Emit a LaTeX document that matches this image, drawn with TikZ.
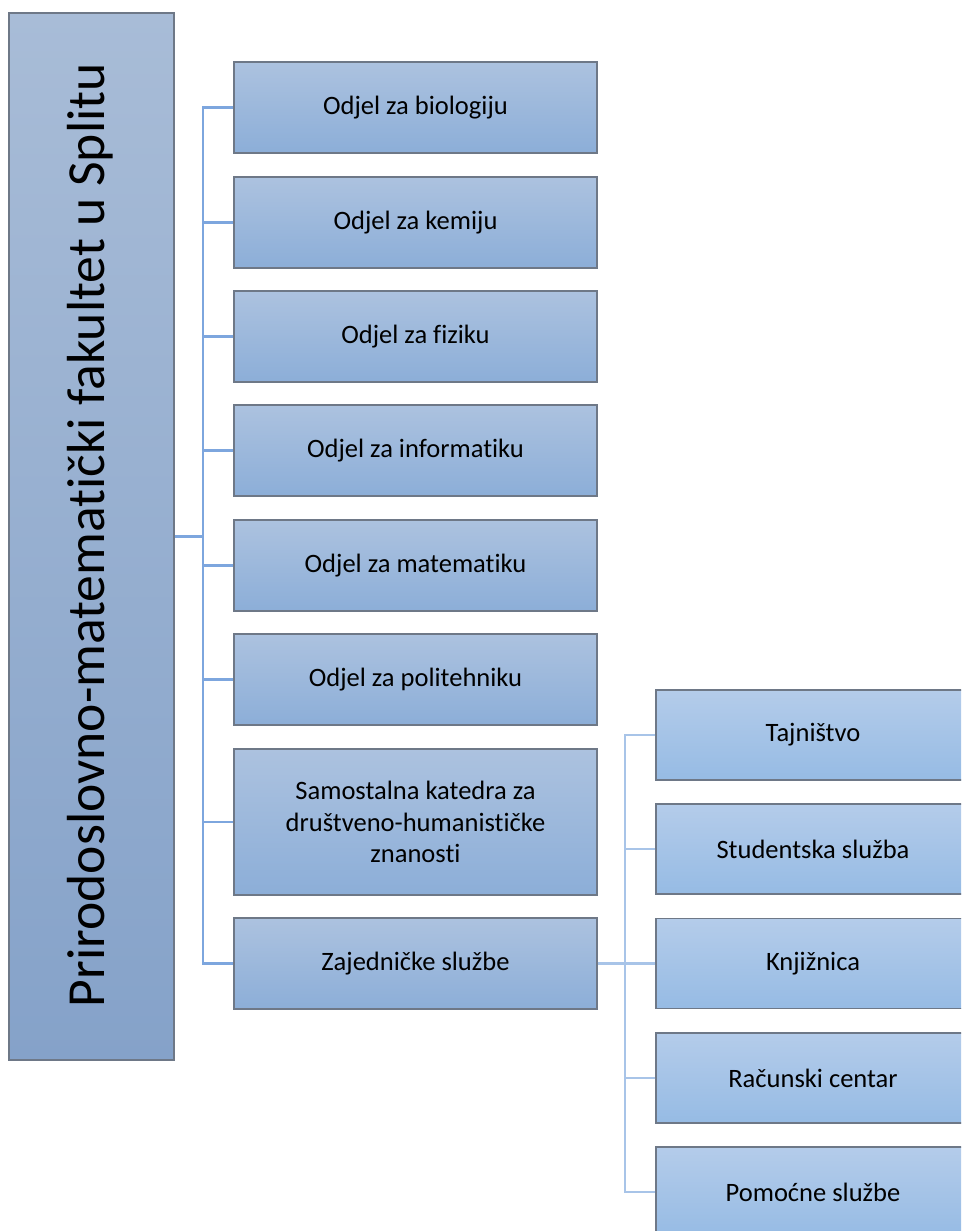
\documentclass[tikz,border=0pt]{standalone}
\usepackage{fontspec}
\setmainfont{Carlito}[Ligatures=NoCommon]
\usetikzlibrary{positioning}

\definecolor{fakTop}{RGB}{168,188,215}
\definecolor{fakBot}{RGB}{133,162,201}
\definecolor{odjTop}{RGB}{172,194,223}
\definecolor{odjBot}{RGB}{140,174,216}
\definecolor{sluTop}{RGB}{180,204,234}
\definecolor{sluBot}{RGB}{150,187,228}
\definecolor{rub}{RGB}{110,120,135}
\definecolor{vezaL}{RGB}{125,166,222}
\definecolor{vezaR}{RGB}{168,196,232}

\tikzset{
	fak/.style = {draw=rub, line width=0.6pt, top color=fakTop, bottom color=fakBot,
		minimum width=3.30cm, minimum height=20.94cm, inner sep=0pt},
	odjel/.style = {draw=rub, line width=0.6pt, top color=odjTop, bottom color=odjBot,
		minimum width=7.26cm, minimum height=1.82cm, align=center,
		font=\fontsize{15.1}{18}\selectfont},
	sluzba/.style = {draw=rub, line width=0.6pt, top color=sluTop, bottom color=sluBot,
		minimum width=6.28cm, minimum height=1.80cm, align=center,
		font=\fontsize{15.1}{18}\selectfont},
	veza/.style = {draw=vezaL, line width=1.5pt},
	veza2/.style = {draw=vezaR, line width=1.5pt}
}

\begin{document}
\begin{tikzpicture}
	\useasboundingbox (0,0) rectangle (19.22,-24.62);
	\clip (0,0) rectangle (19.22,-24.62);
	% fakultet
	\node[fak] (PMF) at (1.83,-10.73) {};
	\node[rotate=90, font=\fontsize{30.5}{36}\selectfont] (PMFtxt) at (1.80,-10.70) {Prirodoslovno-matematički fakultet u Splitu};
	% odjeli
	\node[odjel] (BIO) at (8.31,-2.15) {Odjel za biologiju};
	\node[odjel] (KEM) at (8.31,-4.45) {Odjel za kemiju};
	\node[odjel] (FIZ) at (8.31,-6.73) {Odjel za fiziku};
	\node[odjel] (INF) at (8.31,-9.01) {Odjel za informatiku};
	\node[odjel] (MAT) at (8.31,-11.31) {Odjel za matematiku};
	\node[odjel] (POL) at (8.31,-13.59) {Odjel za politehniku};
	\node[odjel, minimum height=2.92cm] (KAT) at (8.31,-16.44) {Samostalna katedra za\\društveno-humanističke\\znanosti};
	\node[odjel] (ZAJ) at (8.31,-19.27) {Zajedničke službe};
	% sluzbe
	\node[sluzba] (TAJ) at (16.26,-14.70) {Tajništvo};
	\node[sluzba] (STU) at (16.26,-16.98) {Studentska služba};
	\node[sluzba] (KNJ) at (16.26,-19.27) {Knjižnica};
	\node[sluzba] (RAC) at (16.26,-21.56) {Računski centar};
	\node[sluzba] (POM) at (16.26,-23.84) {Pomoćne službe};
	% veze
	\coordinate (L) at (4.06,0);
	\coordinate (R) at (12.50,0);
	\draw[veza] (PMF.east) -- (L |- PMF.east);
	\draw[veza] (BIO.west) -- (L |- BIO.west) -- (L |- ZAJ.west) -- (ZAJ.west);
	\foreach \n in {KEM,FIZ,INF,MAT,POL,KAT}
		\draw[veza] (\n.west) -- (L |- \n.west);
	\draw[veza2] (ZAJ.east) -- (R |- ZAJ.east);
	\draw[veza2] (TAJ.west) -- (R |- TAJ.west) -- (R |- POM.west) -- (POM.west);
	\foreach \n in {STU,KNJ,RAC}
		\draw[veza2] (\n.west) -- (R |- \n.west);
\end{tikzpicture}
\end{document}
